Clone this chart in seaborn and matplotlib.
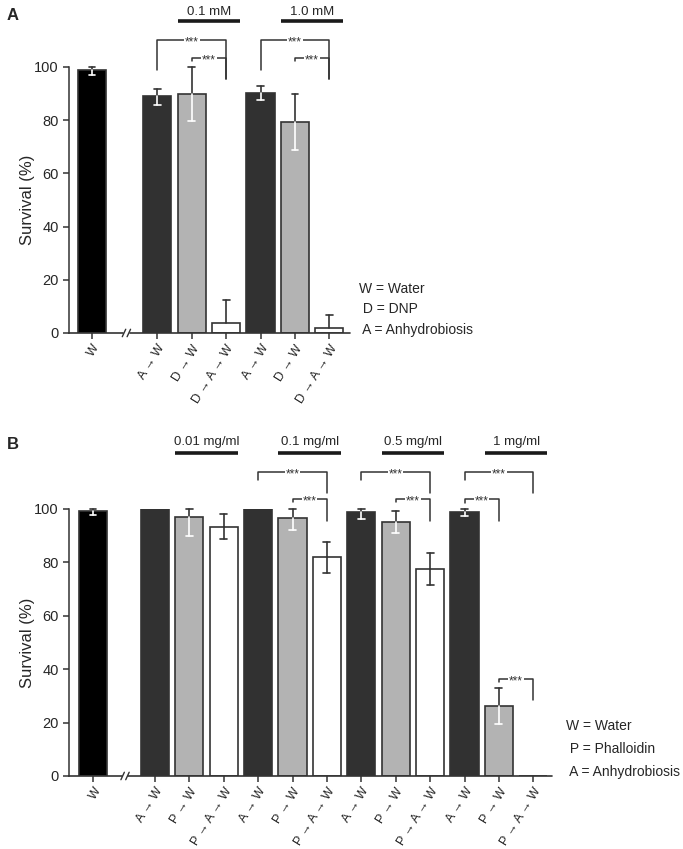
import numpy as np
import pandas as pd
import matplotlib.pyplot as plt
import matplotlib.transforms as mtransforms
import seaborn as sns

# ---- panel A data (DNP) ----
a_labels = ["W", "A → W", "D → W", "D → A → W", "A → W", "D → W", "D → A → W"]
a_pos = [0, 1.9, 2.9, 3.9, 4.9, 5.9, 6.9]
a_vals = [98.9, 89.0, 89.8, 3.9, 90.3, 79.3, 1.8]
a_err_lo = [1.9, 3.2, 10.1, 0, 2.6, 10.6, 0]
a_err_hi = [1.1, 2.7, 10.1, 8.6, 2.6, 10.5, 4.8]
a_kinds = ["k", "d", "g", "w", "d", "g", "w"]
a_conc = [("0.1 mM", 2, 3), ("1.0 mM", 5, 6)]
# (bar i, bar j, line y, left leg end, right leg end)
a_sig = [(1, 3, 110, 98.7, 95.5), (2, 3, 103.4, 102.3, 95.5),
         (4, 6, 110, 98.7, 95.5), (5, 6, 103.4, 102.3, 95.5)]
a_key = ["W = Water", " D = DNP", " A = Anhydrobiosis"]

# ---- panel B data (phalloidin) ----
b_labels = ["W"] + ["A → W", "P → W", "P → A → W"] * 4
b_pos = [0, 1.8, 2.8, 3.8, 4.8, 5.8, 6.8, 7.8, 8.8, 9.8, 10.8, 11.8, 12.8]
b_vals = [99.1, 100, 96.9, 93.4, 100, 96.6, 82.0, 99.0, 95.1, 77.6, 99.0, 26.3, 0]
b_err_lo = [1.4, 0, 6.9, 4.5, 0, 4.5, 5.9, 2.7, 4.2, 5.9, 1.8, 6.8, 0]
b_err_hi = [0.9, 0, 3.1, 4.6, 0, 3.4, 5.6, 1.1, 4.2, 5.9, 1.0, 6.5, 0]
b_kinds = ["k"] + ["d", "g", "w"] * 4
b_conc = [("0.01 mg/ml", 2, 3), ("0.1 mg/ml", 5, 6), ("0.5 mg/ml", 8, 9), ("1 mg/ml", 11, 12)]
b_sig = [(4, 6, 114, 111, 106), (5, 6, 103.7, 102.5, 95.6),
         (7, 9, 114, 111, 106), (8, 9, 103.7, 102.5, 95.6),
         (10, 12, 114, 111, 106), (10, 11, 103.7, 102.2, 95.6),
         (11, 12, 36.4, 35.1, 28.5)]
b_key = ["W = Water", " P = Phalloidin", " A = Anhydrobiosis"]

sns.set_style("ticks")
plt.rcParams['font.family'] = ['Liberation Sans', 'DejaVu Sans']

dark = '#333333'
fill = {'k': '#000000', 'd': '#313131', 'g': '#b3b3b3', 'w': '#ffffff'}
bw = 0.82


def draw_panel(ax, pos, vals, lo, hi, kinds, labels, xlim, brk, conc, conc_y, sig):
    df = pd.DataFrame({'x': pos, 'y': vals, 'bar': [str(i) for i in range(len(pos))]})
    sns.barplot(data=df, x='x', y='y', hue='bar', palette=[fill[k] for k in kinds],
                native_scale=True, dodge=False, width=bw, saturation=1,
                edgecolor=dark, linewidth=1.2, legend=False, errorbar=None, ax=ax)
    # error bars: white inside filled bars, dark outside
    for x, v, l, h, k in zip(pos, vals, lo, hi, kinds):
        inner = 'white' if k != 'w' else dark
        if h > 0:
            ax.plot([x, x], [v, v + h], color=dark, lw=1.2, zorder=5, clip_on=False)
            ax.plot([x - 0.1, x + 0.1], [v + h] * 2, color=dark, lw=1.2, zorder=5, clip_on=False)
        if l > 0:
            ax.plot([x, x], [v - l, v], color=inner, lw=1.2, zorder=5)
            ax.plot([x - 0.1, x + 0.1], [v - l] * 2, color=inner, lw=1.2, zorder=5)

    ax.set_xlim(*xlim)
    ax.set_ylim(0, 100)
    ax.set_yticks([0, 20, 40, 60, 80, 100])
    ax.set_xticks(pos)
    ax.set_xticklabels(labels, rotation=58, ha='right', rotation_mode='anchor', fontsize=9)
    ax.tick_params(axis='y', labelsize=10.5, length=4, width=1.1, color=dark)
    ax.tick_params(axis='x', length=4, width=1.1, color=dark, pad=3)
    ax.set_xlabel('')
    ax.set_ylabel('Survival (%)', fontsize=12, labelpad=-1)
    for s in ['top', 'right', 'bottom']:
        ax.spines[s].set_visible(False)
    ax.spines['left'].set_linewidth(1.1)
    ax.spines['left'].set_color(dark)

    # broken bottom axis
    tr = mtransforms.blended_transform_factory(ax.transData, ax.transAxes)
    ax.plot([xlim[0], brk - 0.1], [0, 0], color=dark, lw=1.2, transform=tr, clip_on=False)
    ax.plot([brk + 0.1, xlim[1]], [0, 0], color=dark, lw=1.2, transform=tr, clip_on=False)
    for dx in (-0.07, 0.07):
        ax.plot([brk + dx - 0.05, brk + dx + 0.05], [-0.014, 0.014], color=dark, lw=1.0,
                transform=tr, clip_on=False)

    # concentration bars
    for txt, i, j in conc:
        ax.plot([pos[i] - bw / 2, pos[j] + bw / 2], [conc_y[0]] * 2, color='#1a1a1a', lw=2.6,
                clip_on=False, solid_capstyle='butt')
        ax.text((pos[i] + pos[j]) / 2, conc_y[1], txt, ha='center', va='center', fontsize=9.5)

    # significance brackets
    for i, j, y, y1, y2 in sig:
        x1, x2 = pos[i], pos[j]
        ax.plot([x1, x1, x2, x2], [y1, y, y, y2], color=dark, lw=1.1, clip_on=False)
        ax.text((x1 + x2) / 2, y - 0.9, '***', ha='center', va='center', fontsize=8.5, color=dark,
                bbox=dict(fc='white', ec='none', pad=0.6), clip_on=False)


fig = plt.figure(figsize=(6.83, 8.49), dpi=100)
axA = fig.add_axes([0.101, 0.6078, 0.4114, 0.3133])
axB = fig.add_axes([0.101, 0.086, 0.707, 0.3145])

draw_panel(axA, a_pos, a_vals, a_err_lo, a_err_hi, a_kinds, a_labels,
           (-0.67, 7.5), 1.0, a_conc, (117.3, 120.7), a_sig)
draw_panel(axB, b_pos, b_vals, b_err_lo, b_err_hi, b_kinds, b_labels,
           (-0.70, 13.34), 0.93, b_conc, (121.1, 125.2), b_sig)

# keys
for txt, y in zip(a_key, [289, 309, 330]):
    fig.text(359 / 683, 1 - y / 849, txt, ha='left', va='center', fontsize=10)
for txt, y in zip(b_key, [726, 749, 772]):
    fig.text(566 / 683, 1 - y / 849, txt, ha='left', va='center', fontsize=10)

fig.text(7 / 683, 1 - 15 / 849, 'A', fontsize=12, fontweight='bold', va='center', ha='left')
fig.text(7 / 683, 1 - 445 / 849, 'B', fontsize=12, fontweight='bold', va='center', ha='left')

fig.savefig('out.png', dpi=100)
